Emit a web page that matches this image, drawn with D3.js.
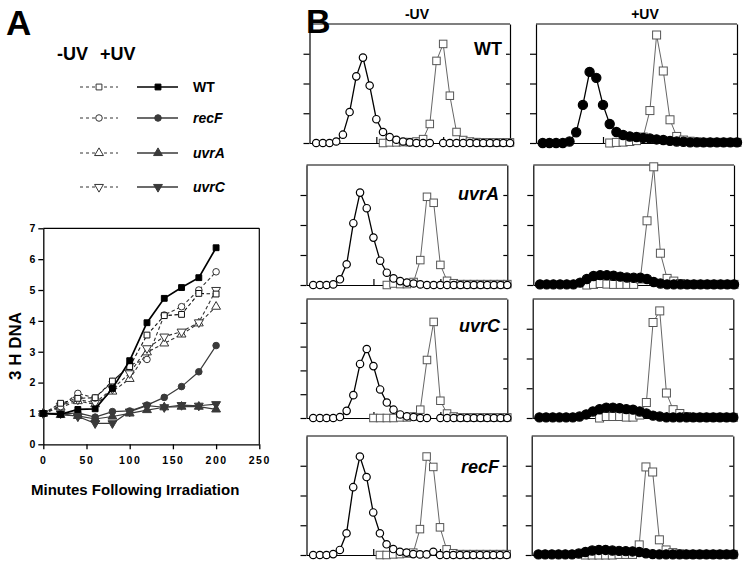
<!DOCTYPE html>
<html><head><meta charset="utf-8">
<script src="https://cdn.jsdelivr.net/npm/d3@7"></script>
<style>
body{margin:0;background:#fff}
svg{display:block}
text{font-family:"Liberation Sans",Arial,Helvetica,sans-serif;font-weight:bold;fill:#000}
</style></head><body>
<svg id="c" width="750" height="569"></svg>
<script>
// ---------- Panel A data ----------
const minutes = [0,20,40,60,80,100,120,140,160,180,200];
const xTicksA = [0,50,100,150,200,250];
const yTicksA = [0,1,2,3,4,5,6,7];
const wtNoUV   = [1.0,1.33,1.49,1.51,2.05,2.52,3.54,4.17,4.21,4.89,4.87];
const wtUV     = [1.0,0.97,1.13,1.15,1.81,2.71,3.94,4.73,5.08,5.40,6.37];
const recFNoUV = [1.0,1.22,1.65,1.50,2.03,2.57,2.75,4.19,4.46,5.00,5.59];
const recFUV   = [1.0,0.98,1.02,0.88,1.06,1.08,1.27,1.52,1.87,2.35,3.20];
const uvrANoUV = [1.0,1.20,1.40,1.30,1.71,2.12,2.98,3.27,3.56,3.92,4.46];
const uvrAUV   = [1.0,0.95,0.92,0.82,0.90,1.00,1.11,1.20,1.22,1.22,1.13];
const uvrCNoUV = [1.0,1.25,1.45,1.35,1.80,2.30,3.11,3.49,3.65,3.95,5.00];
const uvrCUV   = [1.0,1.00,0.90,0.68,0.68,1.06,1.25,1.20,1.27,1.25,1.30];
const strains  = ["WT","recF","uvrA","uvrC"];

// ---------- Panel B data (fractions 1..30) ----------
const fractions = [1,2,3,4,5,6,7,8,9,10,11,12,13,14,15,16,17,18,19,20,21,22,23,24,25,26,27,28,29,30];
const rowLabels = ["WT","uvrA","uvrC","recF"];
const columnLabels = ["-UV","+UV"];
// WT
const wtMinusCircles = [0,0,0,0.05,0.28,1.04,2.24,2.87,1.93,0.8,0.37,0.2,0.11,0.05,0.02,0,0,0,null,0,0,0,0,0,0,0,0,0,0,0];
const wtMinusSquares = [null,null,null,null,null,null,null,null,null,null,0,0.02,0.02,0.03,0.03,0.05,0.13,0.64,2.76,3.33,1.59,0.37,0.1,0.05,0.03,0.02,0.02,0.02,0.02,0.02];
const wtPlusCircles  = [0,0,0,0,0.05,0.36,1.28,2.39,2.19,1.28,0.64,0.37,0.27,0.22,0.2,0.17,0.15,0.12,0.1,0.07,0.05,0.04,0.02,0.02,0.02,0.02,0.02,0.02,0.02,0.02];
const wtPlusSquares  = [null,null,null,null,null,null,null,null,null,null,0,0.02,0.03,0.05,0.08,0.2,1.09,3.63,2.42,0.78,0.22,0.1,0.06,0.04,0.02,0.02,0.02,0.02,0.02,0.02];
// uvrA
const uvrAMinusCircles = [0,0,0,0.02,0.19,0.69,2.06,3.08,2.56,1.58,0.81,0.41,0.22,0.13,0.08,0.05,0.02,0,0,0,0,0,0,0,0,0,0,0,0,0];
const uvrAMinusSquares = [null,null,null,null,null,null,null,null,null,null,null,0,0.05,0.03,0.03,0.1,0.83,2.94,2.74,0.67,0.14,0.06,0.03,0.03,0.03,0.03,0.03,0.03,0.03,0.03];
const uvrAPlusCircles  = [0.02,0.02,0.02,0.02,0.02,0.02,0.08,0.2,0.3,0.33,0.33,0.31,0.28,0.25,0.24,0.24,0.2,0.1,0.05,0.02,0.02,0.02,0.02,0.02,0.02,0.02,0.02,0.02,0.02,0.02];
const uvrAPlusSquares  = [null,null,null,null,null,null,null,0,0.02,0.05,0.03,0.02,0.02,0.02,0.02,0.2,2.14,3.94,1.06,0.22,0.13,0.05,0.02,0.02,0.02,0.02,0.02,0.02,0.02,0.02];
// uvrC
const uvrCMinusCircles = [0,0,0,0,0.04,0.3,0.96,2.27,2.9,2.18,1.2,0.65,0.35,0.15,0.07,0.04,0,0,null,0,0,0,0,0,0,0,0,0,0,0];
const uvrCMinusSquares = [null,null,null,null,null,null,null,null,null,0,0,0,0,0.02,0.02,0.05,0.28,1.95,3.23,0.58,0.15,0.05,0.02,0.02,0.02,0.02,0.02,0.02,0.02,0.02];
const uvrCPlusCircles  = [0.02,0.02,0.02,0.02,0.02,0.02,0.05,0.12,0.22,0.3,0.35,0.35,0.33,0.3,0.28,0.22,0.15,0.08,0.05,0.02,0.02,0.02,0.02,0.02,0.02,0.02,0.02,0.02,0.02,0.02];
const uvrCPlusSquares  = [null,null,null,null,null,null,null,null,null,0,0.05,0.05,0.05,0.03,0.03,0.1,0.52,3.21,3.6,0.84,0.28,0.15,0.05,0.02,0.02,0.02,0.02,0.02,0.02,0.02];
// recF
const recFMinusCircles = [0,0,0,0.03,0.17,0.73,2.28,3.31,2.62,1.43,0.73,0.36,0.2,0.11,0.08,0.03,0.02,0.02,0.11,0,0,0,0,0,0,0,0,0,0,0];
const recFMinusSquares = [null,null,null,null,null,null,null,null,null,null,0,0,0.02,0.03,0.05,0.08,0.87,3.31,2.96,0.93,0.19,0.06,0.03,0.03,0.03,0.03,0.03,0.03,0.03,0.03];
const recFPlusCircles  = [0.02,0.02,0.02,0.02,0.02,0.02,0.05,0.1,0.15,0.17,0.17,0.15,0.14,0.13,0.12,0.1,0.06,0.03,0.02,0.02,0.02,0.02,0.02,0.02,0.02,0.02,0.02,0.02,0.02,0.02];
const recFPlusSquares  = [null,null,null,null,null,null,null,0,0,0,0,0,0.02,0.02,0.02,0.34,2.96,2.79,0.51,0.17,0.08,0.04,0.02,0.02,0.02,0.02,0.02,0.02,0.02,0.02];

const svg = d3.select("#c");

// ================= Panel A =================
svg.append("text").attr("x",6).attr("y",35).style("font-size","35px").text("A");
svg.append("text").attr("x",57).attr("y",60).style("font-size","18px").text(columnLabels[0]);
svg.append("text").attr("x",100).attr("y",60).style("font-size","18px").text(columnLabels[1]);

const xA = d3.scaleLinear().domain([0,250]).range([43.3,259.3]);
const yA = d3.scaleLinear().domain([0,7]).range([444.3,228.3]);
const gA = svg.append("g");

const axL = gA.append("g").attr("transform",`translate(${xA(0)},0)`)
  .call(d3.axisLeft(yA).tickValues(yTicksA).tickSize(5).tickPadding(3).tickSizeOuter(0).tickFormat(d3.format("d")));
const axB = gA.append("g").attr("transform",`translate(0,${yA(0)})`)
  .call(d3.axisBottom(xA).tickValues(xTicksA).tickSize(5).tickPadding(7).tickSizeOuter(0).tickFormat(d3.format("d")));
[axL,axB].forEach(a=>{
  a.selectAll("path,line").attr("stroke","#000").attr("stroke-width",1.3);
  a.selectAll("text").style("font-size","10.5px").style("font-family","Liberation Sans, Arial, sans-serif").style("font-weight","bold");
});
axB.selectAll("text").style("letter-spacing","1.6px");
gA.append("line").attr("x1",xA(0)).attr("x2",xA(250)).attr("y1",yA(7)).attr("y2",yA(7)).attr("stroke","#000").attr("stroke-width",1.2);
gA.append("line").attr("x1",xA(250)).attr("x2",xA(250)).attr("y1",yA(7)).attr("y2",yA(0)).attr("stroke","#000").attr("stroke-width",1.2);

svg.append("text").attr("transform","translate(21,346) rotate(-90)").attr("text-anchor","middle").style("font-size","17px").text("3 H DNA");
svg.append("text").attr("x",31).attr("y",495).style("font-size","15px").text("Minutes Following Irradiation");

function symPath(kind,size){
  if(kind==="square") return d3.symbol().type(d3.symbolSquare).size(size)();
  if(kind==="circle") return d3.symbol().type(d3.symbolCircle).size(size)();
  return d3.symbol().type(d3.symbolTriangle).size(size)();
}
const seriesA = [
  {vals:uvrANoUV, kind:"tri",  down:false, uv:false, col:"#333"},
  {vals:uvrCNoUV, kind:"tri",  down:true,  uv:false, col:"#333"},
  {vals:recFNoUV, kind:"circle",down:false, uv:false, col:"#333"},
  {vals:wtNoUV,   kind:"square",down:false, uv:false, col:"#111"},
  {vals:uvrAUV,   kind:"tri",  down:false, uv:true,  col:"#3a3a3a"},
  {vals:uvrCUV,   kind:"tri",  down:true,  uv:true,  col:"#3a3a3a"},
  {vals:recFUV,   kind:"circle",down:false, uv:true,  col:"#3a3a3a"},
  {vals:wtUV,     kind:"square",down:false, uv:true,  col:"#000"}
];
const lineA = d3.line().x(d=>xA(d[0])).y(d=>yA(d[1]));
seriesA.forEach(s=>{
  const pts = minutes.map((m,i)=>[m,s.vals[i]]);
  gA.append("path").attr("d",lineA(pts)).attr("fill","none").attr("stroke",s.col)
    .attr("stroke-width", s.uv ? (s.kind==="square"?1.7:1.2) : 1.1)
    .attr("stroke-dasharray", s.uv ? null : "3.5,2.5");
  gA.selectAll(null).data(pts).enter().append("path")
    .attr("d",symPath(s.kind,34))
    .attr("transform",d=>`translate(${xA(d[0])},${yA(d[1])})${s.down?" rotate(180)":""}`)
    .attr("fill", s.uv ? s.col : "#fff").attr("stroke",s.col).attr("stroke-width",1);
});

// Legend
const legendKinds = ["square","circle","tri","tri"];
const legendYs = [87,118,153,187];
strains.forEach((name,i)=>{
  const y = legendYs[i], k = legendKinds[i], down = i===3;
  const col = i===0 ? "#000" : "#3a3a3a";
  svg.append("line").attr("x1",80).attr("x2",118).attr("y1",y).attr("y2",y).attr("stroke","#333").attr("stroke-width",1).attr("stroke-dasharray","3,3");
  svg.append("path").attr("d",symPath(k,34)).attr("transform",`translate(99,${y})${down?" rotate(180)":""}`).attr("fill","#fff").attr("stroke","#333");
  svg.append("line").attr("x1",137).attr("x2",178).attr("y1",y).attr("y2",y).attr("stroke",col).attr("stroke-width",1.3);
  svg.append("path").attr("d",symPath(k,34)).attr("transform",`translate(158,${y})${down?" rotate(180)":""}`).attr("fill",col).attr("stroke",col);
  svg.append("text").attr("x",193).attr("y",y+5).style("font-size","14px").style("font-style", i===0?"normal":"italic").text(name);
});

// ================= Panel B =================
svg.append("text").attr("x",306).attr("y",33).style("font-size","34px").text("B");
svg.append("text").attr("x",417).attr("y",19).attr("text-anchor","middle").style("font-size","14px").text(columnLabels[0]);
svg.append("text").attr("x",645).attr("y",19).attr("text-anchor","middle").style("font-size","14px").text(columnLabels[1]);

const rowsB = [
  {minusC:wtMinusCircles, minusS:wtMinusSquares, plusC:wtPlusCircles, plusS:wtPlusSquares,
   m:{l:309.5,r:510,t:24,b:143}, p:{l:536,r:737,t:24,b:143}, leftMax:4, lab:{x:502,y:55}},
  {minusC:uvrAMinusCircles, minusS:uvrAMinusSquares, plusC:uvrAPlusCircles, plusS:uvrAPlusSquares,
   m:{l:306.5,r:507.3,t:165,b:285}, p:{l:533.3,r:734,t:165,b:285}, leftMax:4, lab:{x:499,y:200}},
  {minusC:uvrCMinusCircles, minusS:uvrCMinusSquares, plusC:uvrCPlusCircles, plusS:uvrCPlusSquares,
   m:{l:306.5,r:507.3,t:299,b:418}, p:{l:532.7,r:733.3,t:299,b:418}, leftMax:5, lab:{x:500,y:332}},
  {minusC:recFMinusCircles, minusS:recFMinusSquares, plusC:recFPlusCircles, plusS:recFPlusSquares,
   m:{l:306.5,r:506.7,t:436,b:555}, p:{l:531.7,r:733.3,t:436,b:555}, leftMax:4, lab:{x:499,y:473}}
];

function drawPanel(box, circles, squares, plus, leftMax){
  const g = svg.append("g");
  const x = d3.scaleLinear().domain([0,30]).range([box.l, box.r]);
  const yL = d3.scaleLinear().domain([0,leftMax]).range([box.b, box.t]);
  const yR = d3.scaleLinear().domain([0,4]).range([box.b, box.t]);
  const lAx = g.append("g").attr("transform",`translate(${box.l},0)`)
    .call(d3.axisLeft(yL).tickValues(d3.range(0,leftMax)).tickSize(6).tickSizeOuter(0).tickFormat(""));
  const rAx = g.append("g").attr("transform",`translate(${box.r},0)`)
    .call(d3.axisLeft(yR).tickValues([0,1,2,3]).tickSize(4).tickSizeOuter(0).tickFormat(""));
  const bAx = g.append("g").attr("transform",`translate(0,${box.b})`)
    .call(d3.axisTop(x).tickValues([10,20]).tickSize(6).tickSizeOuter(0).tickFormat(""));
  [lAx,rAx,bAx].forEach(a=>a.selectAll("path,line").attr("stroke","#000").attr("stroke-width",1.2));
  g.append("line").attr("x1",box.l).attr("x2",box.r).attr("y1",box.t).attr("y2",box.t).attr("stroke","#000").attr("stroke-width",1.2);

  const cPts = fractions.map((f,i)=>({f, v:circles[i]}));
  const sPts = fractions.map((f,i)=>({f, v:squares[i]})).filter(d=>d.v!==null);
  const lineC = d3.line().defined(d=>d.v!==null).x(d=>x(d.f)).y(d=>yL(d.v));
  const lineS = d3.line().x(d=>x(d.f)).y(d=>yR(d.v));
  const sqSide = plus ? 8 : 7.5;
  const cr = plus ? 4.6 : 3.7;

  // squares (behind), then circles
  g.append("path").attr("d",lineS(sPts)).attr("fill","none").attr("stroke","#666").attr("stroke-width",1);
  g.selectAll(null).data(sPts).enter().append("rect")
    .attr("x",d=>x(d.f)-sqSide/2).attr("y",d=>yR(d.v)-sqSide/2)
    .attr("width",sqSide).attr("height",sqSide)
    .attr("fill","#fff").attr("stroke","#555").attr("stroke-width",1);
  g.append("path").attr("d",lineC(cPts)).attr("fill","none").attr("stroke","#000").attr("stroke-width",1.3);
  g.selectAll(null).data(cPts.filter(d=>d.v!==null)).enter().append("circle")
    .attr("cx",d=>x(d.f)).attr("cy",d=>yL(d.v)).attr("r",cr)
    .attr("fill", plus ? "#000" : "#fff").attr("stroke","#000").attr("stroke-width",1.2);
}

rowsB.forEach((row,i)=>{
  drawPanel(row.m, row.minusC, row.minusS, false, row.leftMax);
  drawPanel(row.p, row.plusC, row.plusS, true, 4);
  svg.append("text").attr("x",row.lab.x).attr("y",row.lab.y).attr("text-anchor","end")
    .style("font-size","18px").style("font-style", i===0?"normal":"italic").text(rowLabels[i]);
});
</script>
</body></html>
